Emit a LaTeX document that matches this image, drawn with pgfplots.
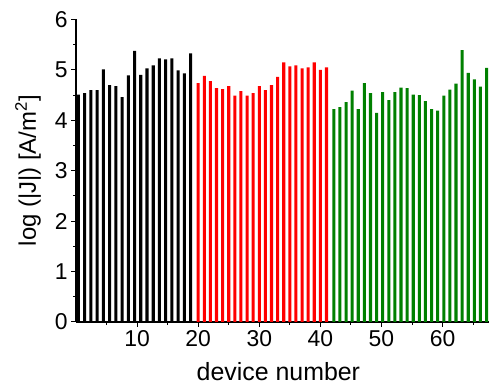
\documentclass[border=0pt]{standalone}
\usepackage{pgfplots}
\pgfplotsset{compat=1.18}
\usepackage{fontspec}
\setmainfont{Liberation Sans}
\begin{document}
\begin{tikzpicture}
\begin{axis}[
  scale only axis,
  width=413bp, height=302.5bp,
  xmin=0, xmax=67.6, ymin=0, ymax=6,
  axis x line*=bottom, axis y line*=left,
  axis line style={line width=1.2pt},
  tick style={line width=1pt, black},
  tick align=outside,
  major tick length=5pt, minor tick length=3pt,
  xtick={10,20,30,40,50,60},
  minor xtick={5,15,25,35,45,55,65},
  ytick={0,1,2,3,4,5,6},
  minor ytick={0.5,1.5,2.5,3.5,4.5,5.5},
  ticklabel style={font=\fontsize{23}{25}\selectfont},
  /pgf/number format/assume math mode=true,
  xlabel={device number},
  ylabel={log (|J|) [A/m\textsuperscript{2}]},
  xlabel style={font=\fontsize{25}{27}\selectfont, at={(axis description cs:0.49,-0.165)}, anchor=center},
  ylabel style={font=\fontsize{24}{26}\selectfont, at={(axis description cs:-0.116,0.5)}, anchor=center},
  ybar, bar width=0.5, bar shift=0pt,
  clip=false,
]
\addplot[fill=black, draw=none] coordinates {
(0.40,4.51) (1.42,4.54) (2.44,4.60) (3.46,4.60) (4.48,5.01) (5.50,4.70)
(6.52,4.68) (7.54,4.46) (8.56,4.89) (9.58,5.38) (10.60,4.90) (11.62,5.03)
(12.64,5.09) (13.66,5.23) (14.68,5.21) (15.70,5.23) (16.72,4.99) (17.74,4.93)
(18.76,5.33)};
\addplot[fill=red, draw=none] coordinates {
(20,4.74) (21,4.88) (22,4.78) (23,4.64) (24,4.62) (25,4.68) (26,4.49)
(27,4.58) (28,4.49) (29,4.54) (30,4.68) (31,4.60) (32,4.70) (33,4.86)
(34,5.15) (35,5.07) (36,5.09) (37,5.03) (38,5.05) (39,5.15) (40,5.00)
(41,5.05)};
\addplot[fill={rgb,255:red,0;green,128;blue,0}, draw=none] coordinates {
(42.2,4.22) (43.2,4.26) (44.2,4.36) (45.2,4.59) (46.2,4.22) (47.2,4.74)
(48.2,4.54) (49.2,4.15) (50.2,4.56) (51.2,4.40) (52.2,4.56) (53.2,4.65)
(54.2,4.64) (55.2,4.51) (56.2,4.50) (57.2,4.38) (58.2,4.22) (59.2,4.19)
(60.2,4.49) (61.2,4.61) (62.2,4.73) (63.2,5.39) (64.2,4.94) (65.2,4.81)
(66.2,4.67) (67.2,5.04)};
\end{axis}
\path (current axis.south west) ++(-76bp,-70bp);
\path (current axis.north east) ++(2bp,19.5bp);
\end{tikzpicture}
\end{document}
